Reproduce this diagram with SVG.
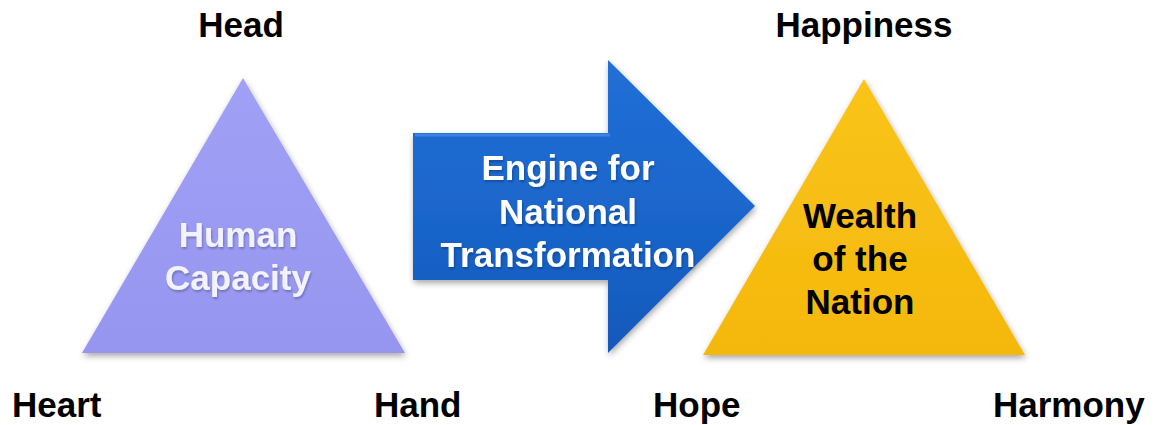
<svg xmlns="http://www.w3.org/2000/svg" width="1160" height="425" viewBox="0 0 1160 425">
  <defs>
    <filter id="shadow" x="-10%" y="-10%" width="125%" height="130%">
      <feGaussianBlur in="SourceAlpha" stdDeviation="3"/>
      <feOffset dx="1" dy="3" result="b"/>
      <feComponentTransfer><feFuncA type="linear" slope="0.35"/></feComponentTransfer>
      <feMerge><feMergeNode/><feMergeNode in="SourceGraphic"/></feMerge>
    </filter>
    <filter id="tshadow" x="-10%" y="-20%" width="120%" height="150%">
      <feGaussianBlur in="SourceAlpha" stdDeviation="1"/>
      <feOffset dx="1" dy="1.5"/>
      <feComponentTransfer><feFuncA type="linear" slope="0.25"/></feComponentTransfer>
      <feMerge><feMergeNode/><feMergeNode in="SourceGraphic"/></feMerge>
    </filter>
    <linearGradient id="gPurple" x1="0" y1="0" x2="0" y2="1">
      <stop offset="0" stop-color="#a0a0f6"/>
      <stop offset="1" stop-color="#9696f0"/>
    </linearGradient>
    <linearGradient id="gYellow" x1="0" y1="0" x2="0" y2="1">
      <stop offset="0" stop-color="#fac41a"/>
      <stop offset="1" stop-color="#f4b80c"/>
    </linearGradient>
    <linearGradient id="gBlue" x1="0" y1="0" x2="0" y2="1">
      <stop offset="0" stop-color="#216fd6"/>
      <stop offset="0.5" stop-color="#1a66cc"/>
      <stop offset="1" stop-color="#1358bb"/>
    </linearGradient>
    <style>
      .lbl { font-family: "Liberation Sans", Arial, sans-serif; font-weight: bold; font-size: 35px; fill: #000; }
      .inner { font-family: "Liberation Sans", Arial, sans-serif; font-weight: bold; font-size: 35px; text-anchor: middle; }
    </style>
  </defs>

  <g id="human-capacity">
    <polygon points="243,78 82,353 405,353" fill="url(#gPurple)" filter="url(#shadow)"/>
    <text class="inner" fill="#f2f3ff" filter="url(#tshadow)"><tspan x="238" y="247">Human</tspan><tspan x="238" y="290">Capacity</tspan></text>
  </g>

  <g id="engine">
    <polygon points="413,133 608,133 608,60 755,206 608,353 608,280 413,280" fill="url(#gBlue)" filter="url(#shadow)"/>
    <polyline points="415,135 610,135" stroke="#4a90e8" stroke-width="3" fill="none" opacity="0.7"/>
    <text class="inner" fill="#ffffff" filter="url(#tshadow)"><tspan x="568" y="180">Engine for</tspan><tspan x="568" y="224">National</tspan><tspan x="568" y="267">Transformation</tspan></text>
  </g>

  <g id="wealth">
    <polygon points="864,79 703,355 1025,355" fill="url(#gYellow)" filter="url(#shadow)"/>
    <text class="inner" fill="#000000"><tspan x="860" y="228">Wealth</tspan><tspan x="860" y="271">of the</tspan><tspan x="860" y="314">Nation</tspan></text>
  </g>

  <g id="labels">
    <text class="lbl" x="241" y="37" text-anchor="middle">Head</text>
    <text class="lbl" x="12" y="417">Heart</text>
    <text class="lbl" x="374" y="417">Hand</text>
    <text class="lbl" x="864" y="37" text-anchor="middle">Happiness</text>
    <text class="lbl" x="653" y="417">Hope</text>
    <text class="lbl" x="993" y="417">Harmony</text>
  </g>

  <g id="connectors"></g>
</svg>
